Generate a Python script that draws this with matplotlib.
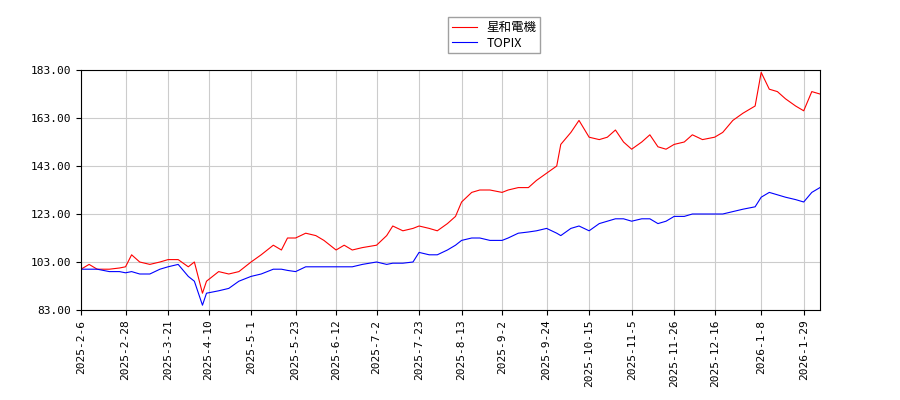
import pandas as pd
import matplotlib.pyplot as plt
from matplotlib.ticker import FormatStrFormatter

dates = ["2025-02-06", "2025-02-10", "2025-02-14", "2025-02-20", "2025-02-25", "2025-02-28",
         "2025-03-03", "2025-03-07", "2025-03-12", "2025-03-17", "2025-03-21", "2025-03-26",
         "2025-03-31", "2025-04-03", "2025-04-07", "2025-04-09", "2025-04-15", "2025-04-20",
         "2025-04-25", "2025-05-01", "2025-05-06", "2025-05-12", "2025-05-16", "2025-05-19",
         "2025-05-23", "2025-05-28", "2025-06-02", "2025-06-06", "2025-06-12", "2025-06-16",
         "2025-06-20", "2025-06-25", "2025-07-02", "2025-07-07", "2025-07-10", "2025-07-15",
         "2025-07-20", "2025-07-23", "2025-07-28", "2025-08-01", "2025-08-06", "2025-08-10",
         "2025-08-13", "2025-08-18", "2025-08-22", "2025-08-27", "2025-09-02", "2025-09-05",
         "2025-09-10", "2025-09-15", "2025-09-19", "2025-09-24", "2025-09-29", "2025-10-01",
         "2025-10-06", "2025-10-10", "2025-10-15", "2025-10-20", "2025-10-24", "2025-10-28",
         "2025-11-01", "2025-11-05", "2025-11-10", "2025-11-14", "2025-11-18", "2025-11-22",
         "2025-11-26", "2025-12-01", "2025-12-05", "2025-12-10", "2025-12-16", "2025-12-20",
         "2025-12-25", "2025-12-30", "2026-01-05", "2026-01-08", "2026-01-12", "2026-01-16",
         "2026-01-20", "2026-01-25", "2026-01-29", "2026-02-02", "2026-02-06"]

seiwa = [100, 102, 100, 100, 100.5, 101, 106, 103, 102, 103, 104, 104, 101, 103, 90, 95,
         99, 98, 99, 103, 106, 110, 108, 113, 113, 115, 114, 112, 108, 110, 108, 109,
         110, 114, 118, 116, 117, 118, 117, 116, 119, 122, 128, 132, 133, 133, 132, 133,
         134, 134, 137, 140, 143, 152, 157, 162, 155, 154, 155, 158, 153, 150, 153, 156,
         151, 150, 152, 153, 156, 154, 155, 157, 162, 165, 168, 182, 175, 174, 171, 168,
         166, 174, 173]

topix = [100, 100, 100, 99, 99, 98.5, 99, 98, 98, 100, 101, 102, 97, 95, 85, 90,
         91, 92, 95, 97, 98, 100, 100, 99.5, 99, 101, 101, 101, 101, 101, 101, 102,
         103, 102, 102.5, 102.5, 103, 107, 106, 106, 108, 110, 112, 113, 113, 112, 112, 113,
         115, 115.5, 116, 117, 115, 114, 117, 118, 116, 119, 120, 121, 121, 120, 121, 121,
         119, 120, 122, 122, 123, 123, 123, 123, 124, 125, 126, 130, 132, 131, 130, 129,
         128, 132, 134]

tick_labels = ["2025-2-6", "2025-2-28", "2025-3-21", "2025-4-10", "2025-5-1", "2025-5-23",
               "2025-6-12", "2025-7-2", "2025-7-23", "2025-8-13", "2025-9-2", "2025-9-24",
               "2025-10-15", "2025-11-5", "2025-11-26", "2025-12-16", "2026-1-8", "2026-1-29"]


def main():
    x = pd.to_datetime(dates)
    fig = plt.figure(figsize=(9, 4), dpi=100)
    ax = fig.add_axes([0.09, 0.225, 0.821, 0.6])
    l1, = ax.plot(x, seiwa, color="red", lw=0.8, label="星和電機")
    l2, = ax.plot(x, topix, color="blue", lw=0.8, label="TOPIX")

    ax.set_xlim(pd.Timestamp("2025-02-06"), pd.Timestamp("2026-02-06"))
    ax.set_ylim(83, 183)
    ax.set_yticks([83, 103, 123, 143, 163, 183])
    ax.yaxis.set_major_formatter(FormatStrFormatter("%.2f"))
    ax.set_xticks(pd.to_datetime(tick_labels))
    ax.set_xticklabels(tick_labels, rotation=90)
    for lab in ax.get_xticklabels() + ax.get_yticklabels():
        lab.set_family("DejaVu Sans Mono")
        lab.set_fontsize(8)
    ax.grid(True, color="#cccccc", lw=0.8)

    fig.legend(handles=[l1, l2], loc="upper center", bbox_to_anchor=(0.549, 0.972),
               prop={"family": ["Noto Sans CJK JP", "DejaVu Sans"], "size": 9},
               fancybox=False, edgecolor="#888888", borderpad=0.3, labelspacing=0.2)
    fig.savefig("out.png", dpi=100)
    plt.close(fig)


if __name__ == "__main__":
    main()
